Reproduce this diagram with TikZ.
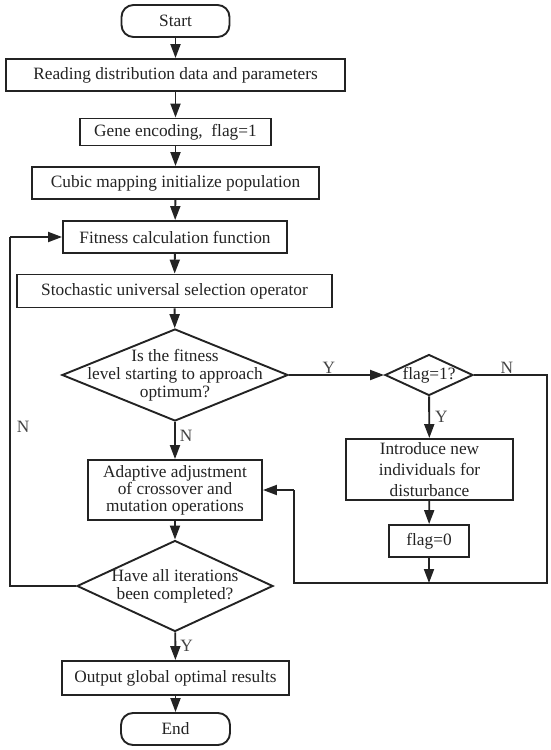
\documentclass[tikz,border=0pt]{standalone}
\usepackage{fontspec}
\setmainfont{Liberation Serif}
\usetikzlibrary{arrows.meta,calc,positioning,shapes.geometric}
\definecolor{inkgray}{RGB}{35,35,35}
\tikzset{
    mybox/.style={rectangle,draw=inkgray,line width=1.9pt,inner sep=0pt,align=center,text=inkgray},
    myterm/.style={mybox,rounded corners=12pt},
    mydiam/.style={diamond,draw=inkgray,line width=1.9pt,inner sep=0pt},
    mytext/.style={align=center,text=inkgray,inner sep=0pt},
    myarrow/.style={draw=inkgray,line width=1.9pt,-{Triangle[length=14pt,width=10pt]}},
    myline/.style={draw=inkgray,line width=1.9pt},
    mylabel/.style={text=inkgray!85,inner sep=1pt},
    every node/.style={font=\fontsize{17.3}{18}\selectfont}
}
\begin{document}
\begin{tikzpicture}[x=1pt,y=-1pt]
  \useasboundingbox (0,0) rectangle (550,750);

  % main column
  \node[myterm,minimum width=108pt,minimum height=32pt] (start) at (175.5,21) {Start};
  \node[mybox,minimum width=339pt,minimum height=32pt] (read) at (175.5,75) {Reading distribution data and parameters};
  \node[mybox,minimum width=191pt,minimum height=27pt] (gene) at (175.5,132) {Gene encoding,\ \ flag=1};
  \node[mybox,minimum width=287pt,minimum height=32pt] (cubic) at (175.5,183) {Cubic mapping initialize population};
  \node[mybox,minimum width=224pt,minimum height=32pt] (fit) at (175,237) {Fitness calculation function};
  \node[mybox,minimum width=315pt,minimum height=33pt] (sel) at (174.5,291) {Stochastic universal selection operator};

  % first decision
  \node[mydiam,minimum width=226pt,minimum height=92pt] (opt) at (175,375) {};
  \node[mytext] (optt) at (opt) {Is the fitness\\level starting to approach\\optimum?};

  \node[mybox,minimum width=174pt,minimum height=60pt,font=\fontsize{17.3}{17}\selectfont] (adapt) at (175,490)
    {Adaptive adjustment\\of crossover and\\mutation operations};

  % second decision
  \node[mydiam,minimum width=196pt,minimum height=91pt] (iter) at (175,586) {};
  \node[mytext] (itert) at (iter) {Have all iterations\\been completed?};

  \node[mybox,minimum width=227pt,minimum height=34pt] (out) at (175.5,678) {Output global optimal results};
  \node[myterm,minimum width=109pt,minimum height=32pt] (end) at (175.5,729) {End};

  % right branch
  \node[mydiam,minimum width=88pt,minimum height=41pt] (flag) at (429,375) {};
  \node[mytext] (flagt) at (flag) {flag=1?};
  \node[mybox,minimum width=167pt,minimum height=61pt,font=\fontsize{17.3}{21}\selectfont] (intro) at (429.5,469.5)
    {Introduce new\\individuals for\\disturbance};
  \node[mybox,minimum width=80pt,minimum height=32pt] (reset) at (429,541) {flag=0};

  % corner points of the loops
  \coordinate (rtop) at (547,375);
  \coordinate (rbot) at (547,583);
  \coordinate (lbot) at (294,583);
  \coordinate (lup)  at (294,490);
  \coordinate (join) at (429,583);
  \coordinate (ltop) at (10,237);
  \coordinate (lbot2) at (10,586);

  % main flow
  \draw[myarrow] (start) -- (read);
  \draw[myarrow] (read) -- (gene);
  \draw[myarrow] (gene) -- (cubic);
  \draw[myarrow] (cubic) -- (fit);
  \draw[myarrow] (fit) -- (sel);
  \draw[myarrow] (sel) -- (opt);
  \draw[myarrow] (opt) -- node[mylabel,pos=0.38,right=3pt] {N} (adapt);
  \draw[myarrow] (adapt) -- (iter);
  \draw[myarrow] (iter) -- node[mylabel,pos=0.5,right=3pt] {Y} (out);
  \draw[myarrow] (out) -- (end);

  % right branch
  \draw[myarrow] (opt.east) -- node[mylabel,pos=0.42,above=0pt] {Y} (flag.west);
  \draw[myarrow] (flag) -- node[mylabel,pos=0.5,right=4pt] {Y} (intro);
  \draw[myarrow] (intro) -- (reset);
  \draw[myarrow] (reset) -- (join);
  \draw[myline] (flag.east) -- node[mylabel,pos=0.45,above=0pt] {N} (rtop) -- (rbot) -- (lbot) -- (lup);
  \draw[myarrow] (lup) -- (adapt.east);

  % loop back
  \draw[myline] (iter.west) -- (lbot2) -- node[mylabel,pos=0.456,right=5pt] {N} (ltop);
  \draw[myarrow] (ltop) -- (fit.west);
\end{tikzpicture}
\end{document}
